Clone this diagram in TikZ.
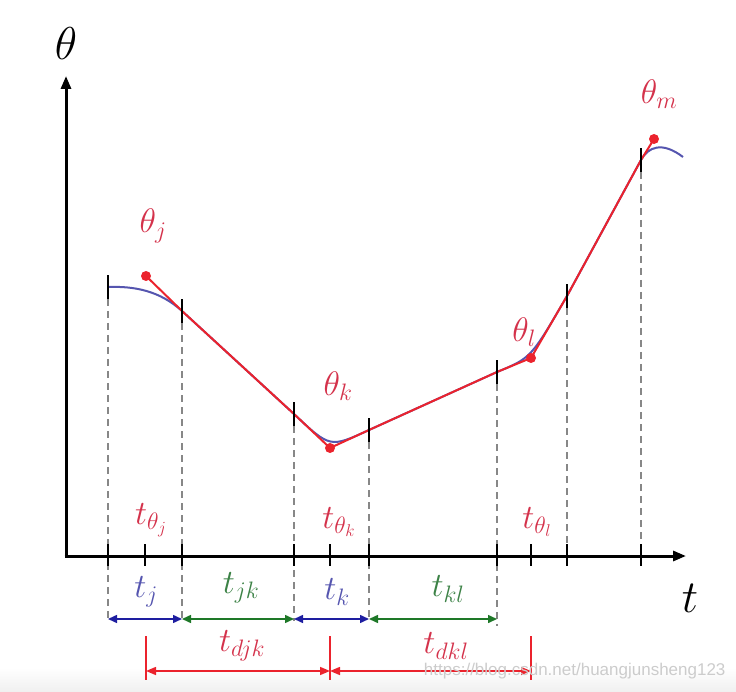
\RequirePackage{fix-cm}
\documentclass[tikz,border=0pt]{standalone}
\usepackage{fontspec}
\newfontfamily\wmfont{Liberation Sans}
\usetikzlibrary{arrows.meta}
\definecolor{lred}{RGB}{235,35,45}
\definecolor{tred}{RGB}{212,50,75}
\definecolor{cblue}{RGB}{85,85,175}
\definecolor{ablue}{RGB}{30,30,160}
\definecolor{tblue}{RGB}{85,85,175}
\definecolor{agreen}{RGB}{30,120,40}
\definecolor{tgreen}{RGB}{60,130,70}
\definecolor{dgray}{RGB}{135,135,135}
\begin{document}
\begin{tikzpicture}[x=1pt,y=-1pt,
  axisline/.style={line width=3pt,-{Triangle[length=13pt,width=10pt]}},
  tickmark/.style={line width=2pt,black},
  dashline/.style={dgray,line width=1.6pt,dash pattern=on 7pt off 5pt},
  bigfont/.style={font=\fontsize{46}{50}\selectfont},
  lblfont/.style={font=\fontsize{34}{38}\selectfont},
  redlbl/.style={lblfont,text=tred},
  dimarrow/.style={line width=1.5pt,{Triangle[length=9pt,width=8pt]}-{Triangle[length=9pt,width=8pt]}},
  reddim/.style={lred,line width=1.5pt,{Triangle[length=10pt,width=8pt]}-{Triangle[length=10pt,width=8pt]}},
  dot/.style={circle,fill=lred,inner sep=0pt,minimum size=10pt}
]
\useasboundingbox (0,0) rectangle (736,692);
\shade[top color=white,bottom color=gray!12] (0,668) rectangle (736,692);

% axes
\coordinate (O) at (66,556);
\coordinate (Ytop) at (66,76);
\coordinate (Xend) at (686,556);
\draw[axisline] (66,557.5) -- (Ytop);
\draw[axisline] (64.5,556) -- (Xend);
\node[bigfont] (thetaax) at (66,44) {$\theta$};
\node[bigfont] (tax) at (690,598) {$t$};

% key points
\coordinate (P1) at (108,287);
\coordinate (Qj) at (146,276);
\coordinate (P2) at (182,311);
\coordinate (P3) at (294,414);
\coordinate (Qk) at (330,448);
\coordinate (P4) at (369,430);
\coordinate (P5) at (497,372);
\coordinate (Ql) at (531,358);
\coordinate (P6) at (567,296);
\coordinate (P7) at (641,160);
\coordinate (Qm) at (654,139);
\coordinate (E) at (683,157);

% dashed verticals
\foreach \x/\y/\e in {108/287/621,182/311/621,294/414/621,369/430/621,497/372/626,567/296/556,641/160/556}
  \draw[dashline] (\x,\y+12) -- (\x,\e);

% blue blended curve
\draw[cblue,line width=2pt] (P1) .. controls (135,286) and (160,291) .. (P2) -- (P3)
  .. controls (Qk) .. (P4) -- (P5) .. controls (Ql) .. (P6) -- (P7)
  .. controls (648,147) and (662,141) .. (E);
% red polyline
\draw[lred,line width=2pt,line join=round] (Qj) -- (P2) -- (P3) -- (Qk) -- (P4) -- (P5) -- (Ql) -- (P6) -- (P7) -- (Qm);
\foreach \q in {Qj,Qk,Ql,Qm} \node[dot] at (\q) {};

% ticks on the curve
\foreach \p in {P1,P2,P3,P4,P5,P6,P7}
  \draw[tickmark] ([yshift=-12pt]\p) -- ([yshift=12pt]\p);
% ticks on the axis
\foreach \x in {108,145,182,294,330,369,497,531,567,641}
  \draw[tickmark] (\x,544) -- (\x,566);

% theta labels
\node[redlbl] (thj) at (153,226) {$\theta_j$};
\node[redlbl] (thk) at (338,386) {$\theta_k$};
\node[redlbl] (thl) at (524,332) {$\theta_l$};
\node[redlbl] (thm) at (659,94) {$\theta_m$};

% t_theta labels
\node[redlbl] (ttj) at (151,520) {$t_{\theta_j}$};
\node[redlbl] (ttk) at (339,522) {$t_{\theta_k}$};
\node[redlbl] (ttl) at (537,522) {$t_{\theta_l}$};

% blue / green durations
\coordinate (A1) at (108,619);
\coordinate (A2) at (182,619);
\coordinate (A3) at (294,619);
\coordinate (A4) at (369,619);
\coordinate (A5) at (497,619);
\draw[dimarrow,ablue] (A1) -- (A2);
\draw[dimarrow,agreen] (A2) -- (A3);
\draw[dimarrow,ablue] (A3) -- (A4);
\draw[dimarrow,agreen] (A4) -- (A5);
\node[lblfont,text=tblue] (tj) at (146,592) {$t_j$};
\node[lblfont,text=tgreen] (tjk) at (241,588) {$t_{jk}$};
\node[lblfont,text=tblue] (tk) at (337,592) {$t_k$};
\node[lblfont,text=tgreen] (tkl) at (448,589) {$t_{kl}$};

% red durations
\coordinate (B1t) at (146,636);
\coordinate (B1b) at (146,680);
\coordinate (B2t) at (330,636);
\coordinate (B2b) at (330,680);
\coordinate (B3t) at (531,636);
\coordinate (B3b) at (531,680);
\draw[lred,line width=1.8pt] (B1t) -- (B1b);
\draw[lred,line width=1.8pt] (B2t) -- (B2b);
\draw[lred,line width=1.8pt] (B3t) -- (B3b);
\coordinate (R1) at (146,671);
\coordinate (R2) at (330,671);
\coordinate (R3) at (531,671);
\draw[reddim] (R1) -- (R2);
\draw[reddim] (R2) -- (R3);
\node[redlbl] (tdjk) at (242,646) {$t_{djk}$};
\node[redlbl] (tdkl) at (446,646) {$t_{dkl}$};

% watermark
\node[font=\wmfont\fontsize{17}{20}\selectfont,text=gray!40,anchor=east] (wm) at (729,671) {https://blog.csdn.net/huangjunsheng123};
\end{tikzpicture}
\end{document}
